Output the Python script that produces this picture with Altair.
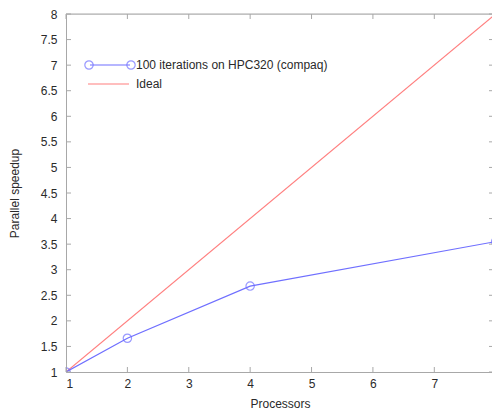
import altair as alt
import pandas as pd

# Measured speedup (100 iterations on HPC320) and ideal linear speedup
procs = [1, 2, 4, 8]
speedup = [1.0, 1.66, 2.68, 3.55]
ideal_procs = [1, 8]
ideal_speedup = [1, 8]

x_ticks = [1, 2, 3, 4, 5, 6, 7]
y_ticks = [1, 1.5, 2, 2.5, 3, 3.5, 4, 4.5, 5, 5.5, 6, 6.5, 7, 7.5, 8]

series_label = "100 iterations on HPC320 (compaq)"
ideal_label = "Ideal"

W, H = 426, 358
BLUE = "#6f6fff"
RED = "#ff7f7f"
AXIS = "#a8a8a8"
TEXT = "#2a2a2a"
FONT = "Liberation Sans"
FS = 12

xs = alt.Scale(domain=[1, 7.94], nice=False, zero=False)
ys = alt.Scale(domain=[1, 8], nice=False, zero=False)

meas = pd.DataFrame({"p": procs, "s": speedup})
ideal = pd.DataFrame({"p": ideal_procs, "s": ideal_speedup})
xt = pd.DataFrame({"p": x_ticks})
yt = pd.DataFrame({"s": y_ticks})
one = pd.DataFrame({"k": [0]})

common = dict(labelFont=FONT, labelFontSize=FS, labelColor=TEXT,
              titleFont=FONT, titleFontSize=FS, titleColor=TEXT,
              titleFontWeight="normal", labelOverlap=False,
              labelExpr="datum.value", domainColor=AXIS, ticks=False, grid=False)
x_axis = alt.Axis(values=x_ticks, title="Processors", labelPadding=6,
                  titleX=214, titleY=31, titleAlign="center",
                  titleBaseline="middle", **common)
y_axis = alt.Axis(values=y_ticks, title="Parallel speedup", labelPadding=9,
                  titleX=-52, titleY=H / 2, titleAngle=-90,
                  titleAlign="center", titleBaseline="middle", **common)

X = alt.X("p:Q", scale=xs, axis=x_axis)
Y = alt.Y("s:Q", scale=ys, axis=y_axis)

ideal_line = alt.Chart(ideal).mark_line(color=RED, strokeWidth=1.2, clip=True).encode(x=X, y=Y)
meas_line = alt.Chart(meas).mark_line(color=BLUE, strokeWidth=1.2, clip=True).encode(x=X, y=Y)
meas_pts = alt.Chart(meas).mark_point(shape="circle", size=70, color=BLUE,
                                      filled=False, strokeWidth=1.2, clip=True).encode(x=X, y=Y)

# inward tick marks on all four sides, plus top border
tick_style = dict(color=AXIS, strokeWidth=1)
xb = alt.Chart(xt).mark_rule(**tick_style).encode(
    x=X, y=alt.value(H), y2=alt.value(H - 5))
xtop = alt.Chart(xt).mark_rule(**tick_style).encode(
    x=X, y=alt.value(0), y2=alt.value(5))
yl = alt.Chart(yt).mark_rule(**tick_style).encode(
    y=Y, x=alt.value(0), x2=alt.value(5))
yr = alt.Chart(yt).mark_rule(**tick_style).encode(
    y=Y, x=alt.value(W - 3), x2=alt.value(W))
top = alt.Chart(one).mark_rule(**tick_style).encode(
    x=alt.value(0), x2=alt.value(W), y=alt.value(0))

# key in the upper-left corner
key_y1, key_y2 = 51, 70
k1_line = alt.Chart(one).mark_rule(color=BLUE, strokeWidth=1.2).encode(
    x=alt.value(24), x2=alt.value(64), y=alt.value(key_y1))
k1_a = alt.Chart(one).mark_point(shape="circle", size=70, color=BLUE, filled=False,
                                 strokeWidth=1.2).encode(x=alt.value(23), y=alt.value(key_y1))
k1_b = alt.Chart(one).mark_point(shape="circle", size=70, color=BLUE, filled=False,
                                 strokeWidth=1.2).encode(x=alt.value(65), y=alt.value(key_y1))
k1_txt = alt.Chart(one).mark_text(text=series_label, align="left", baseline="middle",
                                  font=FONT, fontSize=FS, color=TEXT).encode(
    x=alt.value(70), y=alt.value(key_y1))
k2_line = alt.Chart(one).mark_rule(color=RED, strokeWidth=1.2).encode(
    x=alt.value(22), x2=alt.value(63), y=alt.value(key_y2))
k2_txt = alt.Chart(one).mark_text(text=ideal_label, align="left", baseline="middle",
                                  font=FONT, fontSize=FS, color=TEXT).encode(
    x=alt.value(70), y=alt.value(key_y2))

chart = alt.layer(
    ideal_line, meas_line, meas_pts, xb, xtop, yl, yr, top,
    k1_line, k1_a, k1_b, k1_txt, k2_line, k2_txt,
).properties(
    width=W, height=H,
    autosize=alt.AutoSizeParams(type="none"),
    padding={"left": 66, "top": 14, "right": 0, "bottom": 39},
).configure_view(stroke=None).configure(background="white")

chart.save("out.html", embed_options={"renderer": "svg", "actions": False})
